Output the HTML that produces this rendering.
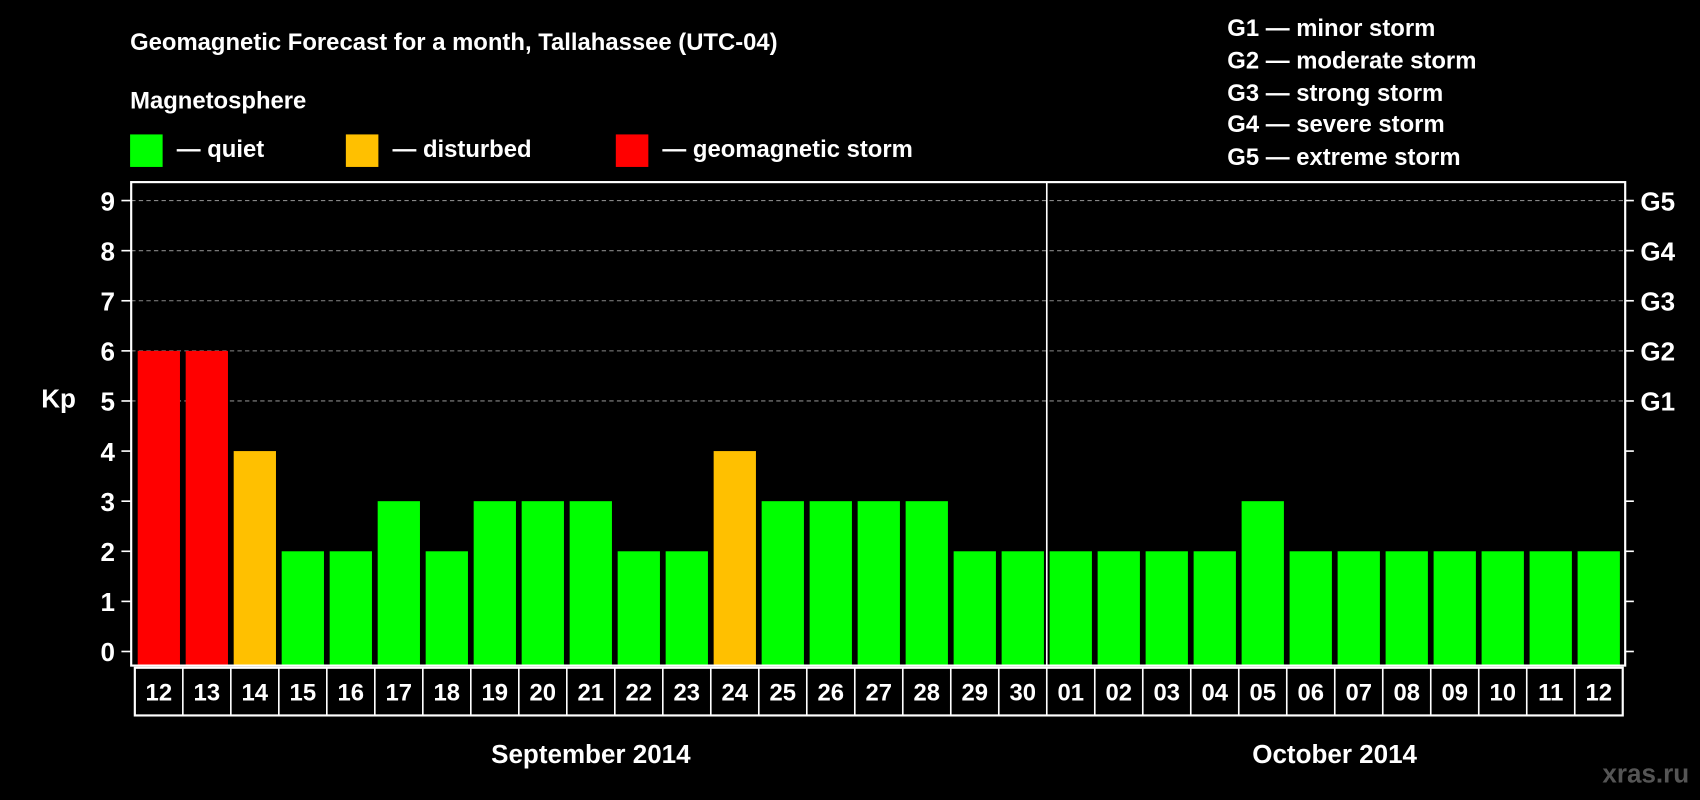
<!DOCTYPE html>
<html><head><meta charset="utf-8"><style>
html,body{margin:0;padding:0;background:#000;width:1700px;height:800px;overflow:hidden}
svg{display:block}
text{font-family:"Liberation Sans",Arial,sans-serif;font-weight:bold;fill:#fff}
</style></head><body>
<svg id="chart" width="1700" height="800" viewBox="0 0 1568 738" preserveAspectRatio="none" xmlns="http://www.w3.org/2000/svg">
<rect width="1568" height="738" fill="#000"/>
<text x="120" y="46" font-size="22">Geomagnetic Forecast for a month, Tallahassee (UTC-04)</text>
<text x="120" y="100" font-size="22">Magnetosphere</text>
<g><rect x="120" y="124" width="30" height="30" fill="#00ff00"/><text x="163" y="145" font-size="22">— quiet</text></g>
<g><rect x="319" y="124" width="30" height="30" fill="#ffc000"/><text x="362" y="145" font-size="22">— disturbed</text></g>
<g><rect x="568" y="124" width="30" height="30" fill="#ff0000"/><text x="611" y="145" font-size="22">— geomagnetic storm</text></g>
<g font-size="22">
<text x="1132" y="33">G1 — minor storm</text>
<text x="1132" y="63">G2 — moderate storm</text>
<text x="1132" y="93">G3 — strong storm</text>
<text x="1132" y="122">G4 — severe storm</text>
<text x="1132" y="152">G5 — extreme storm</text>
</g>
<text x="38" y="376" font-size="24">Kp</text>
<g id="grid"></g><g id="bars"></g><g id="axes"></g><g id="xlabels"></g>
<text x="545" y="704" font-size="24" text-anchor="middle">September 2014</text>
<text x="1231" y="704" font-size="24" text-anchor="middle">October 2014</text>
<text x="1558" y="722" font-size="24" text-anchor="end" style="fill:#555">xras.ru</text>
</svg>
<script>
const days = ["12","13","14","15","16","17","18","19","20","21","22","23","24","25","26","27","28","29","30","01","02","03","04","05","06","07","08","09","10","11","12"];
const kpValues = [6,6,4,2,2,3,2,3,3,3,2,2,4,3,3,3,3,2,2,2,2,2,2,3,2,2,2,2,2,2,2];
const yTicks = [0,1,2,3,4,5,6,7,8,9];
const gLabels = ["","","","","","G1","G2","G3","G4","G5"];
const monthBreakIndex = 19;
const NS="http://www.w3.org/2000/svg";
const L=121,R=1499,T=168,B=614;
const firstCenter=146.5,pitch=44.27,barW=39;
const y=v=>601-v*46.22;
const x=i=>firstCenter+i*pitch;
function mk(tag,attrs,parent){const e=document.createElementNS(NS,tag);for(const k in attrs)e.setAttribute(k,attrs[k]);parent.appendChild(e);return e;}
const grid=document.getElementById('grid'),bars=document.getElementById('bars'),axes=document.getElementById('axes'),xl=document.getElementById('xlabels');
yTicks.forEach((t,i)=>{
  if(t>=5){const gl=mk('line',{x1:L,x2:R,y1:y(t),y2:y(t),stroke:'#888','stroke-width':1,'stroke-dasharray':'4,3'},grid);
  
  }
  const tk=mk('line',{x1:112,x2:L,y1:y(t),y2:y(t),stroke:'#fff','stroke-width':1.5},axes);
  
  
  const tr=mk('line',{x1:R,x2:1507,y1:y(t),y2:y(t),stroke:'#fff','stroke-width':1.5},axes);
  
  
  const lb=mk('text',{x:106,y:y(t)+9,'font-size':24,'text-anchor':'end'},axes);lb.textContent=t;
  
  
  if(gLabels[i]){const g=mk('text',{x:1513,y:y(t)+9,'font-size':24},axes);g.textContent=gLabels[i];
  
  }
});
kpValues.forEach((v,i)=>{
  const c=v>=5?'#ff0000':(v>=4?'#ffc000':'#00ff00');
  const b=mk('rect',{x:x(i)-barW/2,y:y(v),width:barW,height:B-1-y(v),fill:c},bars);
  
  
});
const frame=mk('rect',{x:L,y:T,width:R-L,height:B-T,fill:'none',stroke:'#fff','stroke-width':2},axes);


const sepX=x(monthBreakIndex)-pitch/2;
const sep=mk('line',{x1:sepX,x2:sepX,y1:T,y2:B,stroke:'#fff','stroke-width':1.5},axes);


const cl=x(0)-pitch/2, cr=x(days.length-1)+pitch/2;
const box=mk('rect',{x:cl,y:616,width:cr-cl,height:44,fill:'none',stroke:'#fff','stroke-width':2},xl);


days.forEach((d,i)=>{
  if(i>0){const dv=mk('line',{x1:x(i)-pitch/2,x2:x(i)-pitch/2,y1:616,y2:660,stroke:'#fff','stroke-width':1.5},xl);
  
  }
  const t=mk('text',{x:x(i),y:646,'font-size':22,'text-anchor':'middle'},xl);t.textContent=d;
  
  
});
</script>
</body></html>
